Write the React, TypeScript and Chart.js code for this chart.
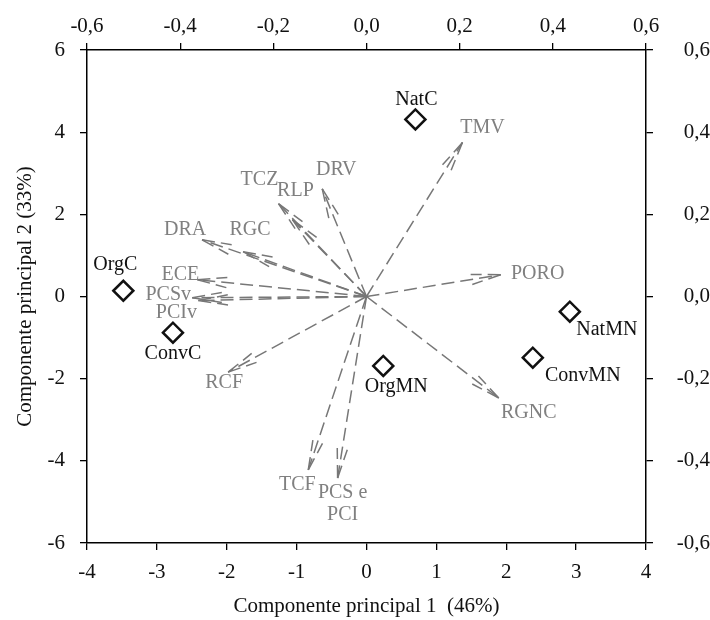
import React, { useEffect, useRef } from "react";
import { Chart, registerables } from "chart.js";

Chart.register(...registerables);

// ---- Data ----
const sampleNames = ["NatC", "OrgC", "ConvC", "OrgMN", "ConvMN", "NatMN"];
const pc1Scores = [0.7, -3.48, -2.77, 0.24, 2.38, 2.91];
const pc2Scores = [4.31, 0.14, -0.88, -1.69, -1.49, -0.37];

const variableNames = [
  "TMV", "PORO", "RGNC", "PCS e\nPCI", "TCF", "RCF", "PCIv",
  "PCSv", "ECE", "DRA", "RGC", "TCZ", "RLP", "DRV",
];
const pc1Loadings = [0.206, 0.288, 0.284, -0.062, -0.125, -0.297, -0.361, -0.374, -0.363, -0.353, -0.265, -0.189, -0.159, -0.095];
const pc2Loadings = [0.375, 0.053, -0.247, -0.442, -0.422, -0.184, -0.01, -0.003, 0.041, 0.138, 0.109, 0.226, 0.187, 0.262];

const scoreXTicks = [-4, -3, -2, -1, 0, 1, 2, 3, 4];
const scoreYTicks = [-6, -4, -2, 0, 2, 4, 6];
const loadingTicks = [-0.6, -0.4, -0.2, 0, 0.2, 0.4, 0.6];

const xTitle = "Componente principal 1  (46%)";
const yTitle = "Componente principal 2 (33%)";

// ---- Presentation (label offsets in px) ----
const sampleLabelOffsets = [
  [1, -20], [-8, -26], [0, 21], [13, 21], [50, 18], [37, 18],
];
const variableLabelOffsets = [
  [20, -15], [37, -1], [30, 15], [5, 15], [-11, 15], [-4, 11], [-22, 12],
  [-24, -3], [-17, -5], [-17, -10], [7, -22], [-19, -24], [3, -29], [14, -19],
];

const FONT = '"Liberation Serif", "Times New Roman", serif';
const ARROW = "#777777";
const VARTEXT = "#808080";
const DASH = [13, 6];

const fmtComma = (v: number) => (Math.abs(v) < 1e-9 ? 0 : v).toFixed(1).replace(".", ",");

const biplotPlugin = {
  id: "biplotDecor",
  afterDatasetsDraw(chart: any) {
    const { ctx } = chart;
    const sx = chart.scales.x, sy = chart.scales.y;
    const lx = chart.scales.x2, ly = chart.scales.y2;
    ctx.save();
    // arrowheads (dashed barbs)
    const ox = lx.getPixelForValue(0), oy = ly.getPixelForValue(0);
    ctx.strokeStyle = ARROW;
    ctx.lineWidth = 1.5;
    ctx.setLineDash(DASH);
    variableNames.forEach((_, i) => {
      const tx = lx.getPixelForValue(pc1Loadings[i]);
      const ty = ly.getPixelForValue(pc2Loadings[i]);
      const ang = Math.atan2(ty - oy, tx - ox);
      for (const s of [-1, 1]) {
        const a = ang + Math.PI + s * 0.17;
        ctx.beginPath();
        ctx.moveTo(tx, ty);
        ctx.lineTo(tx + Math.cos(a) * 30, ty + Math.sin(a) * 30);
        ctx.stroke();
      }
    });
    ctx.setLineDash([]);
    // variable labels
    ctx.font = `20px ${FONT}`;
    ctx.textAlign = "center";
    ctx.textBaseline = "middle";
    ctx.fillStyle = VARTEXT;
    variableNames.forEach((name, i) => {
      const tx = lx.getPixelForValue(pc1Loadings[i]);
      const ty = ly.getPixelForValue(pc2Loadings[i]);
      const [dx, dy] = variableLabelOffsets[i];
      name.split("\n").forEach((line, j) => {
        ctx.fillText(line, tx + dx, ty + dy + j * 22);
      });
    });
    // sample labels
    ctx.fillStyle = "#111";
    sampleNames.forEach((name, i) => {
      const px = sx.getPixelForValue(pc1Scores[i]);
      const py = sy.getPixelForValue(pc2Scores[i]);
      const [dx, dy] = sampleLabelOffsets[i];
      ctx.fillText(name, px + dx, py + dy);
    });
    ctx.restore();
  },
};

const axisCommon = () => ({
  grid: { drawOnChartArea: false, drawTicks: true, tickLength: 7, color: "#000", lineWidth: 1.3 },
  border: { display: true, color: "#000", width: 1.5 },
});

export default function App() {
  const ref = useRef<HTMLCanvasElement | null>(null);

  useEffect(() => {
    if (!ref.current) return;
    const arrowSets = variableNames.map((name, i) => ({
      type: "scatter" as const,
      label: name,
      data: [{ x: 0, y: 0 }, { x: pc1Loadings[i], y: pc2Loadings[i] }],
      xAxisID: "x2",
      yAxisID: "y2",
      showLine: true,
      borderColor: ARROW,
      borderWidth: 1.5,
      borderDash: DASH,
      pointRadius: 0,
      pointHoverRadius: 0,
    }));
    const chart = new Chart(ref.current, {
      type: "scatter",
      data: {
        datasets: [
          ...arrowSets,
          {
            label: "Amostras",
            data: sampleNames.map((_, i) => ({ x: pc1Scores[i], y: pc2Scores[i] })),
            xAxisID: "x",
            yAxisID: "y",
            pointStyle: "rectRot",
            pointRadius: 10,
            pointBorderWidth: 2.5,
            borderColor: "#111",
            backgroundColor: "#fff",
            pointBackgroundColor: "#fff",
            pointBorderColor: "#111",
          } as any,
        ],
      },
      options: {
        responsive: false,
        animation: false,
        devicePixelRatio: 1,
        layout: { padding: 0 },
        plugins: { legend: { display: false }, tooltip: { enabled: false } },
        scales: {
          x: {
            type: "linear",
            position: "bottom",
            min: -4,
            max: 4,
            afterBuildTicks: (s: any) => { s.ticks = scoreXTicks.map((v) => ({ value: v })); },
            ticks: { font: { family: FONT, size: 21 }, color: "#111", padding: 10, maxRotation: 0 },
            title: { display: true, text: xTitle, font: { family: FONT, size: 21 }, color: "#111", padding: { top: 0, bottom: 1 } },
            afterFit: (s: any) => { s.height = 77; },
            ...axisCommon(),
          },
          y: {
            type: "linear",
            position: "left",
            min: -6,
            max: 6,
            afterBuildTicks: (s: any) => { s.ticks = scoreYTicks.map((v) => ({ value: v })); },
            ticks: { font: { family: FONT, size: 21 }, color: "#111", padding: 15 },
            title: { display: true, text: yTitle, font: { family: FONT, size: 21 }, color: "#111", padding: { top: 13, bottom: 0 } },
            afterFit: (s: any) => { s.width = 87; },
            ...axisCommon(),
          },
          x2: {
            type: "linear",
            position: "top",
            min: -0.6,
            max: 0.6,
            afterBuildTicks: (s: any) => { s.ticks = loadingTicks.map((v) => ({ value: v })); },
            ticks: { font: { family: FONT, size: 21 }, color: "#111", padding: 4, maxRotation: 0, callback: (v: any) => fmtComma(Number(v)) },
            afterFit: (s: any) => { s.height = 50; },
            ...axisCommon(),
          },
          y2: {
            type: "linear",
            position: "right",
            min: -0.6,
            max: 0.6,
            afterBuildTicks: (s: any) => { s.ticks = loadingTicks.map((v) => ({ value: v })); },
            ticks: { font: { family: FONT, size: 21 }, color: "#111", padding: 14, crossAlign: "far", callback: (v: any) => fmtComma(Number(v)) },
            afterFit: (s: any) => { s.width = 64; },
            ...axisCommon(),
          },
        },
      } as any,
      plugins: [biplotPlugin],
    });
    return () => chart.destroy();
  }, []);

  return (
    <div style={{ position: "fixed", left: 0, top: 0, width: 710, height: 620, background: "#fff" }}>
      <canvas ref={ref} width={710} height={620} style={{ width: 710, height: 620, display: "block" }} />
    </div>
  );
}
